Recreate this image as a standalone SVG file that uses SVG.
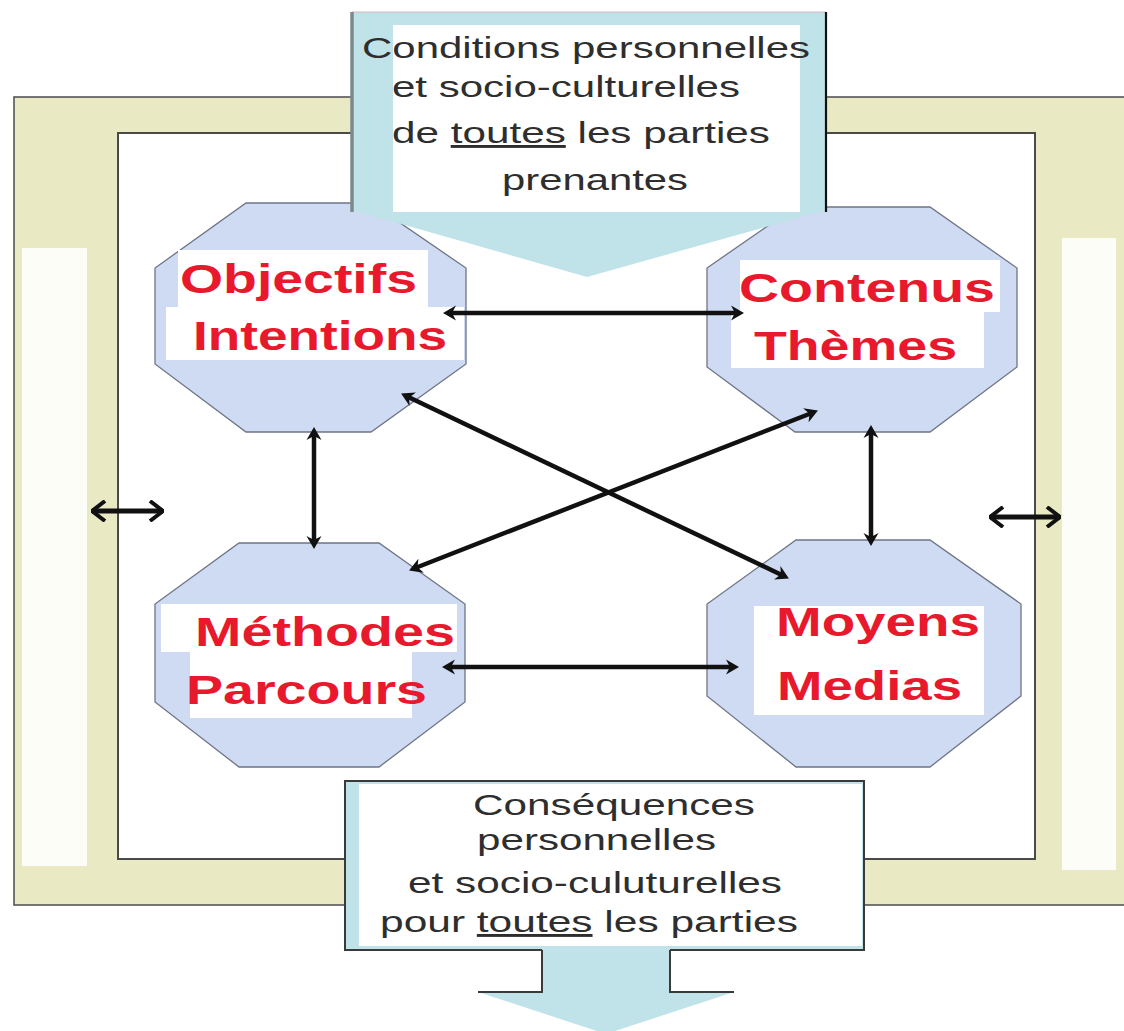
<svg xmlns="http://www.w3.org/2000/svg" width="1124" height="1031" viewBox="0 0 1124 1031">
<defs>
<style>
.oct{fill:#cfdaf3;stroke:#6e7686;stroke-width:1.3}
.wb{fill:#ffffff}
.lbl{font-family:"Liberation Sans",Arial,sans-serif;font-weight:bold;font-size:40px;fill:#e8192c}
.txt{font-family:"Liberation Sans",Arial,sans-serif;font-size:29px;fill:#2e2e2e}
.con{fill:none;stroke:#111111;stroke-width:4.5;marker-start:url(#ah);marker-end:url(#ah)}
.side{fill:none;stroke:#111111;stroke-width:5;marker-start:url(#sh);marker-end:url(#sh)}
.callout{fill:#bfe3e8}
</style>
<marker id="ah" markerUnits="userSpaceOnUse" markerWidth="14" markerHeight="16" refX="5" refY="8" orient="auto-start-reverse">
<path d="M0,0.5 L13,8 L0,15.5 L4,8 z" fill="#111111"/>
</marker>
<marker id="sh" markerUnits="userSpaceOnUse" markerWidth="16" markerHeight="22" refX="15" refY="11" orient="auto-start-reverse">
<path d="M2,1 L15,11 L2,21" fill="none" stroke="#111111" stroke-width="4"/>
</marker>
</defs>

<g id="frame">
<rect x="14" y="97" width="1118" height="808" fill="#e9e9c4" stroke="#555555" stroke-width="1.6"/>
<rect x="22" y="248" width="65" height="618" fill="#fdfdf7"/>
<rect x="1062" y="238" width="54" height="632" fill="#fdfdf7"/>
<rect x="118" y="133" width="917" height="726" fill="#ffffff" stroke="#4a4a4a" stroke-width="2"/>
</g>

<g id="node-objectifs">
<polygon class="oct" points="246,203 371,203 466,268 466,364 371,432 246,432 155,364 155,268"/>
<rect class="wb" x="178" y="250" width="250" height="57"/>
<rect class="wb" x="166" y="307" width="298" height="53"/>
<text class="lbl" x="180" y="293" textLength="237" lengthAdjust="spacingAndGlyphs">Objectifs</text>
<text class="lbl" x="193" y="350" textLength="254" lengthAdjust="spacingAndGlyphs">Intentions</text>
</g>

<g id="node-contenus">
<polygon class="oct" points="795,207 930,207 1017,268 1017,367 930,432 795,432 707,367 707,268"/>
<rect class="wb" x="740" y="260" width="260" height="52"/>
<rect class="wb" x="731" y="312" width="253" height="56"/>
<text class="lbl" x="739" y="302" textLength="256" lengthAdjust="spacingAndGlyphs">Contenus</text>
<text class="lbl" x="754" y="360" textLength="203" lengthAdjust="spacingAndGlyphs">Thèmes</text>
</g>

<g id="node-methodes">
<polygon class="oct" points="239,543 379,543 465,604 465,702 379,767 239,767 155,702 155,604"/>
<rect class="wb" x="161" y="604" width="296" height="48"/>
<rect class="wb" x="190" y="652" width="222" height="66"/>
<text class="lbl" x="195" y="646" textLength="260" lengthAdjust="spacingAndGlyphs">Méthodes</text>
<text class="lbl" x="186" y="704" textLength="241" lengthAdjust="spacingAndGlyphs">Parcours</text>
</g>

<g id="node-moyens">
<polygon class="oct" points="796,540 930,540 1021,604 1021,696 930,767 796,767 707,696 707,604"/>
<rect class="wb" x="754" y="606" width="230" height="109"/>
<text class="lbl" x="776" y="636" textLength="204" lengthAdjust="spacingAndGlyphs">Moyens</text>
<text class="lbl" x="777" y="700" textLength="185" lengthAdjust="spacingAndGlyphs">Medias</text>
</g>

<g id="node-conditions">
<polygon class="callout" points="352,12 826,12 826,210 587,277 352,210"/>
<line x1="352" y1="12" x2="826" y2="12" stroke="#d8b8c4" stroke-width="1.2"/>
<line x1="352" y1="12" x2="352" y2="212" stroke="#7c8a8c" stroke-width="3.5"/>
<line x1="826" y1="12" x2="826" y2="212" stroke="#111111" stroke-width="2.2"/>
<rect class="wb" x="393" y="25" width="407" height="187"/>
<text class="txt" x="362" y="58" textLength="448" lengthAdjust="spacingAndGlyphs">Conditions personnelles</text>
<text class="txt" x="392" y="97" textLength="348" lengthAdjust="spacingAndGlyphs">et socio-culturelles</text>
<text class="txt" x="392" y="143" textLength="378" lengthAdjust="spacingAndGlyphs">de <tspan text-decoration="underline">toutes</tspan> les parties</text>
<text class="txt" x="502" y="190" textLength="186" lengthAdjust="spacingAndGlyphs">prenantes</text>
</g>

<g id="node-consequences">
<polygon class="callout" points="345,781 864,781 864,950 670,950 670,992 734,992 606,1034 478,992 542,992 542,950 345,950"/>
<polyline points="542,950 345,950 345,781 864,781 864,950 670,950" fill="none" stroke="#3a3a3a" stroke-width="2"/>
<polyline points="478,992 542,992 542,950" fill="none" stroke="#3a3a3a" stroke-width="2"/>
<polyline points="670,950 670,992 734,992" fill="none" stroke="#3a3a3a" stroke-width="2"/>
<rect class="wb" x="359" y="784" width="503" height="162"/>
<text class="txt" x="473" y="815" textLength="282" lengthAdjust="spacingAndGlyphs">Conséquences</text>
<text class="txt" x="477" y="850" textLength="239" lengthAdjust="spacingAndGlyphs">personnelles</text>
<text class="txt" x="408" y="893" textLength="374" lengthAdjust="spacingAndGlyphs">et socio-culuturelles</text>
<text class="txt" x="380" y="932" textLength="418" lengthAdjust="spacingAndGlyphs">pour <tspan text-decoration="underline">toutes</tspan> les parties</text>
</g>

<g id="connectors">
<path class="con" d="M451,313 L736,313"/>
<path class="con" d="M314,435 L314,541"/>
<path class="con" d="M871,433 L871,538"/>
<path class="con" d="M450,667 L731,667"/>
<path class="con" d="M408.3,397 L781.7,575"/>
<path class="con" d="M810.5,413.5 L416.5,567.5"/>
<path class="side" d="M92,511 L163,511"/>
<path class="side" d="M990,517 L1060,517"/>
</g>
</svg>
